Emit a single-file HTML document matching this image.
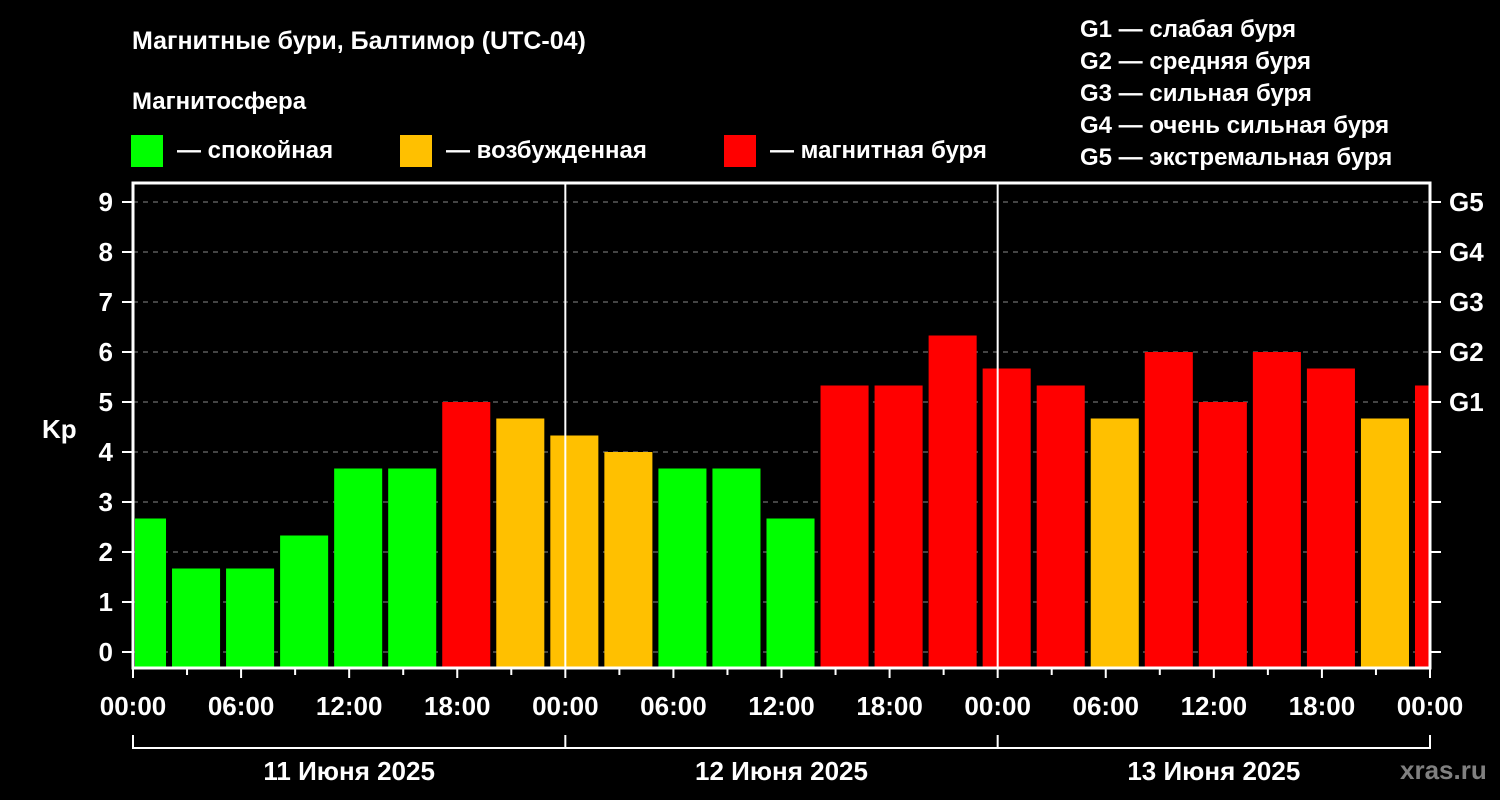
<!DOCTYPE html>
<html><head><meta charset="utf-8"><style>
html,body{margin:0;padding:0;background:#000;}
svg{display:block;font-family:"Liberation Sans",sans-serif;font-weight:bold;}
</style></head><body>
<svg id="chart" width="1500" height="800" viewBox="0 0 1500 800">
<rect width="1500" height="800" fill="#000"/>
<text x="132" y="49" fill="#fff" font-size="25">Магнитные бури, Балтимор (UTC-04)</text>
<text x="132" y="109" fill="#fff" font-size="24">Магнитосфера</text>
<g><rect x="131" y="135" width="32" height="32" fill="#00ff00"/><text x="177" y="158" fill="#fff" font-size="24">— спокойная</text></g>
<g><rect x="400" y="135" width="32" height="32" fill="#ffc000"/><text x="446" y="158" fill="#fff" font-size="24">— возбужденная</text></g>
<g><rect x="724" y="135" width="32" height="32" fill="#ff0000"/><text x="770" y="158" fill="#fff" font-size="24">— магнитная буря</text></g>
<g fill="#fff" font-size="24">
<text x="1080" y="37">G1 — слабая буря</text>
<text x="1080" y="69">G2 — средняя буря</text>
<text x="1080" y="101">G3 — сильная буря</text>
<text x="1080" y="133">G4 — очень сильная буря</text>
<text x="1080" y="165">G5 — экстремальная буря</text>
</g>
<text x="42" y="438" fill="#fff" font-size="26">Kp</text>
<g id="grid"></g><g id="bars"></g><g id="axes"></g>
<text x="1400" y="779" fill="#808080" font-size="26">xras.ru</text>
</svg>
<script>
const kpValues=[2.67,1.67,1.67,2.33,3.67,3.67,5.0,4.67,4.33,4.0,3.67,3.67,2.67,5.33,5.33,6.33,5.67,5.33,4.67,6.0,5.0,6.0,5.67,4.67,5.33];
const yTicks=[0,1,2,3,4,5,6,7,8,9];
const gLabels=["G1","G2","G3","G4","G5"];
const timeLabels=["00:00","06:00","12:00","18:00"];
const dayLabels=["11 Июня 2025","12 Июня 2025","13 Июня 2025"];
const NS="http://www.w3.org/2000/svg";
const X0=133,X1=1430,PT=183,PB=668;
const hourPx=(X1-X0)/72;
const xH=h=>X0+h*hourPx;
const yK=k=>652-k*50;
function mk(tag,attrs,parent){const e=document.createElementNS(NS,tag);for(const k in attrs)e.setAttribute(k,attrs[k]);parent.appendChild(e);return e;}
const grid=document.getElementById('grid'),bars=document.getElementById('bars'),axes=document.getElementById('axes');
yTicks.forEach(t=>{
 const l=mk('line',{x1:X0,x2:X1,y1:yK(t),y2:yK(t),stroke:'#888','stroke-dasharray':'5,5','stroke-width':1},grid);
 
 
 const tk=mk('line',{x1:122,x2:X0,y1:yK(t),y2:yK(t),stroke:'#fff','stroke-width':2},axes);
 
 
 const rt=mk('line',{x1:X1,x2:1441,y1:yK(t),y2:yK(t),stroke:'#fff','stroke-width':2},axes);
 
 
 const tx=mk('text',{x:113,y:yK(t)+9,fill:'#fff','font-size':26,'text-anchor':'end'},axes);
 tx.textContent=t;
 
 
});
gLabels.forEach((g,i)=>{
 const tx=mk('text',{x:1449,y:yK(5+i)+9,fill:'#fff','font-size':26},axes);
 tx.textContent=g;
 
 
});
kpValues.forEach((v,i)=>{
 const h0=-1+3*i,h1=h0+3;
 let a=xH(h0)+3,b=xH(h1)-3;
 a=Math.max(a,X0+2);b=Math.min(b,X1-1);
 const col=v>=5?'#ff0000':(v>=4?'#ffc000':'#00ff00');
 const r=mk('rect',{x:a,y:yK(v),width:b-a,height:PB-yK(v),fill:col},bars);
 
 
});
[24,48].forEach(h=>{const l=mk('line',{x1:xH(h),x2:xH(h),y1:PT,y2:PB,stroke:'#fff','stroke-width':2},axes);
 
 });
const fr=mk('rect',{x:X0,y:PT,width:X1-X0,height:PB-PT,fill:'none',stroke:'#fff','stroke-width':3},axes);


for(let h=0;h<=72;h+=3){
 const major=h%6===0;
 const t=mk('line',{x1:xH(h),x2:xH(h),y1:PB,y2:PB+(major?10:7),stroke:'#fff','stroke-width':2},axes);
 
 
 if(major){
  const tx=mk('text',{x:xH(h),y:715,fill:'#fff','font-size':26,'text-anchor':'middle'},axes);
  tx.textContent=timeLabels[(h/6)%4];
  
  
 }
}
const br=mk('path',{d:`M${X0},735 V748 H${X1} V735 M${xH(24)},735 V748 M${xH(48)},735 V748`,stroke:'#fff','stroke-width':2,fill:'none'},axes);


dayLabels.forEach((d,i)=>{
 const tx=mk('text',{x:xH(24*i+12),y:780,fill:'#fff','font-size':26,'text-anchor':'middle'},axes);
 tx.textContent=d;
 
 
});
</script>
</body></html>
